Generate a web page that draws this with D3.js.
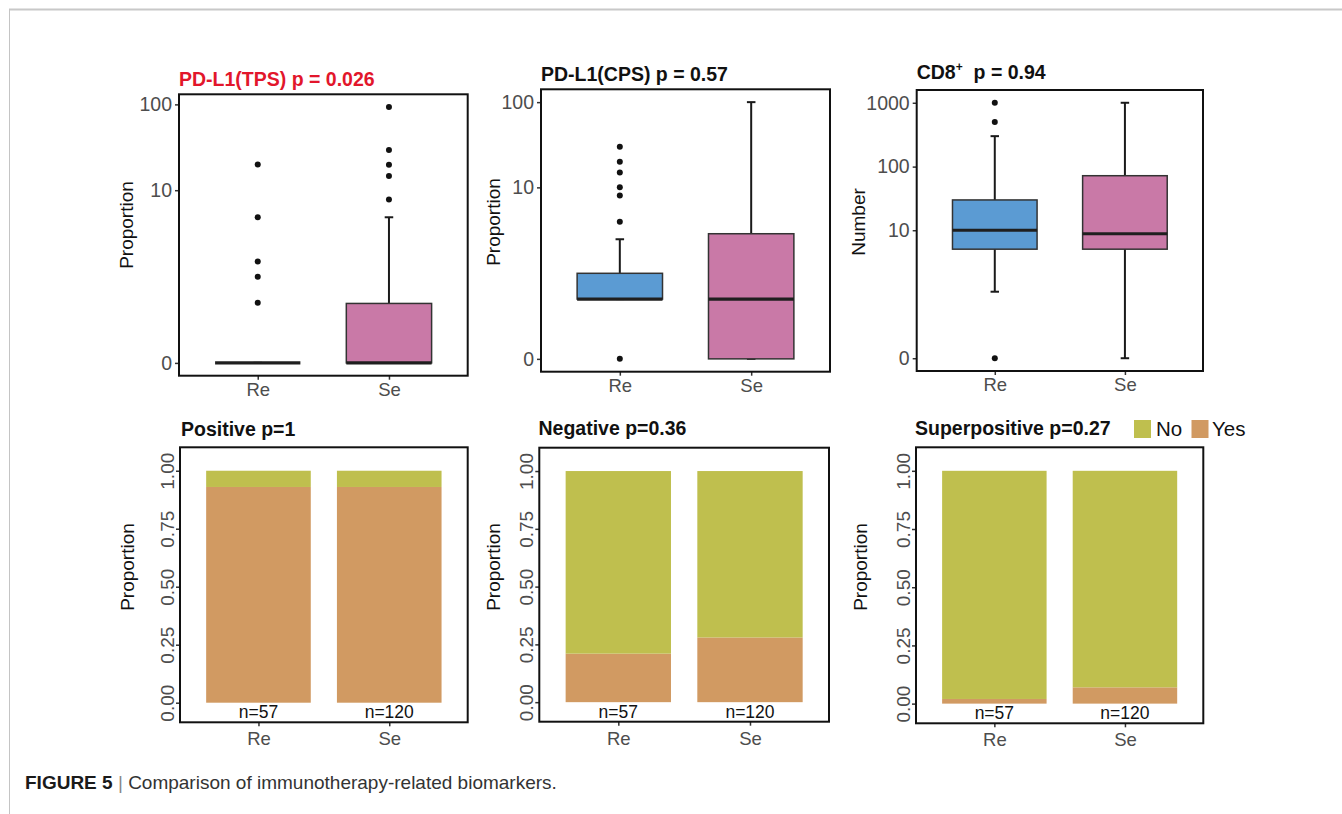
<!DOCTYPE html>
<html>
<head>
<meta charset="utf-8">
<script src="https://cdn.jsdelivr.net/npm/d3@7/dist/d3.min.js"></script>
<style>
  body { margin: 0; background: #fff; }
  svg text { font-family: 'Liberation Sans', Arial, Helvetica, sans-serif; }
</style>
</head>
<body>
<div id="chart"></div>
<script>
const groups = ['Re', 'Se']
const boxColors = ['#5b9bd3', '#c979a7']
// box stats: [lower whisker, q1, median, q3, upper whisker]
const tpsBox = [[0, 0, 0, 0, 0], [0, 0, 0, 0.39, 4.8]]
const tpsOut = [[20, 4.8, 1.4, 0.9, 0.4], [93, 29.5, 19.8, 14.7, 7.8]]
const cpsBox = [[0.4, 0.4, 0.4, 0.9, 2.4], [0, 0, 0.4, 2.8, 100]]
const cpsOut = [[30, 20, 15, 10, 8, 3.9, 0], []]
const cd8Box = [[1, 5, 10, 30, 300], [0, 5, 8.8, 72, 1000]]
const cd8Out = [[1000, 500, 0], []]
const propTicksLog = [0, 10, 100]
const numTicksLog = [0, 10, 100, 1000]

const answers = ['Yes', 'No']
const answerColors = { No: '#bfbf4e', Yes: '#d19a62' }
const positiveYes = [0.93, 0.93]
const negativeYes = [0.21, 0.28]
const superYes = [0.02, 0.07]
const sampleN = [57, 120]
const propTicks = [0, 0.25, 0.5, 0.75, 1]

const W = 1342
const H = 814
const svg = d3.select('#chart').append('svg')
  .attr('width', W)
  .attr('height', H)

// page frame
svg.append('line').attr('x1', 9).attr('x2', W).attr('y1', 9.5).attr('y2', 9.5)
  .attr('stroke', '#c8c8c8').attr('stroke-width', 2)
svg.append('line').attr('x1', 9.5).attr('x2', 9.5).attr('y1', 9).attr('y2', H)
  .attr('stroke', '#c4c4c4').attr('stroke-width', 1)

function yTitle (g, text, cx, cy) {
  g.append('text')
    .attr('transform', `translate(${cx},${cy}) rotate(-90)`)
    .attr('text-anchor', 'middle')
    .attr('dy', '0.35em')
    .attr('font-size', 19)
    .attr('fill', '#111')
    .text(text)
}

function styleAxis (ax, size) {
  ax.select('.domain').remove()
  ax.selectAll('.tick line').attr('stroke', '#333').attr('stroke-width', 1.5)
  ax.selectAll('.tick text').attr('fill', '#4d4d4d').attr('font-size', size)
    .attr('font-family', null)
}

function boxPanel (o) {
  const [x0, y0, x1, y1] = o.box
  const g = svg.append('g')
  const x = d3.scalePoint().domain(groups).range([x0, x1]).padding(0.6)
  const pad = (y1 - y0) * 0.05 / 1.1
  const y = d3.scaleSymlog().constant(0.1).domain([0, o.max]).range([y1 - pad, y0 + pad])
  const bw = x.step() * 0.65
  const cap = x.step() * 0.065

  const ya = g.append('g').attr('transform', `translate(${x0},0)`)
    .call(d3.axisLeft(y).tickValues(o.ticks).tickSize(4).tickPadding(3).tickFormat(d3.format('d')))
  styleAxis(ya, 19.5)
  const xa = g.append('g').attr('transform', `translate(0,${y1})`)
    .call(d3.axisBottom(x).tickSize(4).tickPadding(3))
  styleAxis(xa, 18.5)

  groups.forEach((k, i) => {
    const s = o.stats[i]
    const cx = x(k)
    const bx = g.append('g')
    // whiskers
    bx.append('line').attr('x1', cx).attr('x2', cx).attr('y1', y(s[0])).attr('y2', y(s[4]))
      .attr('stroke', '#1a1a1a').attr('stroke-width', 2)
    ;[s[0], s[4]].forEach(v => {
      bx.append('line').attr('x1', cx - cap / 2).attr('x2', cx + cap / 2)
        .attr('y1', y(v)).attr('y2', y(v))
        .attr('stroke', '#1a1a1a').attr('stroke-width', 2)
    })
    bx.append('rect')
      .attr('x', cx - bw / 2).attr('width', bw)
      .attr('y', y(s[3])).attr('height', y(s[1]) - y(s[3]))
      .attr('fill', o.colors[i]).attr('stroke', '#333').attr('stroke-width', 1.5)
    bx.append('line').attr('x1', cx - bw / 2).attr('x2', cx + bw / 2)
      .attr('y1', y(s[2])).attr('y2', y(s[2]))
      .attr('stroke', '#1f1f1f').attr('stroke-width', 3.2)
    bx.selectAll('circle').data(o.outliers[i]).enter().append('circle')
      .attr('cx', cx).attr('cy', d => y(d)).attr('r', 3)
      .attr('fill', '#111')
  })

  g.append('rect').attr('x', x0).attr('y', y0).attr('width', x1 - x0).attr('height', y1 - y0)
    .attr('fill', 'none').attr('stroke', '#111').attr('stroke-width', 2)

  const t = g.append('text').attr('x', x0).attr('y', o.titleY)
    .attr('font-size', 19.5).attr('font-weight', 'bold').attr('fill', o.titleColor || '#111')
  if (o.sup) {
    t.append('tspan').text(o.title)
    t.append('tspan').attr('font-size', 12).attr('dy', -8).text(o.sup)
    t.append('tspan').attr('dy', 8).text('\u00a0 ' + o.rest)
  } else {
    t.text(o.title)
  }
  yTitle(g, o.ylab, o.ylabPos[0], o.ylabPos[1])
}

function barPanel (o) {
  const [x0, y0, x1, y1] = o.box
  const g = svg.append('g')
  const x = d3.scalePoint().domain(groups).range([x0, x1]).padding(0.6)
  const y = d3.scaleLinear().domain([-0.0845, 1.101]).range([y1, y0])
  const bw = x.step() * 0.8

  const rows = groups.map((k, i) => ({ group: k, Yes: o.yes[i], No: 1 - o.yes[i] }))
  const series = d3.stack().keys(answers)(rows)

  g.selectAll('.layer').data(series).enter().append('g')
    .attr('class', 'layer')
    .attr('fill', d => answerColors[d.key])
    .selectAll('rect').data(d => d).enter().append('rect')
    .attr('x', d => x(d.data.group) - bw / 2)
    .attr('width', bw)
    .attr('y', d => y(d[1]))
    .attr('height', d => y(d[0]) - y(d[1]))

  const ya = g.append('g').attr('transform', `translate(${x0},0)`)
    .call(d3.axisLeft(y).tickValues(propTicks).tickSize(4).tickFormat(d3.format('.2f')))
  styleAxis(ya, 19)
  ya.selectAll('.tick text')
    .attr('x', null).attr('dy', null)
    .attr('text-anchor', 'middle')
    .attr('transform', 'translate(-6,0) rotate(-90)')
  const xa = g.append('g').attr('transform', `translate(0,${y1})`)
    .call(d3.axisBottom(x).tickSize(4).tickPadding(6))
  styleAxis(xa, 18.5)

  g.selectAll('.nlab').data(groups).enter().append('text')
    .attr('class', 'nlab')
    .attr('x', d => x(d))
    .attr('y', y1 - 4)
    .attr('text-anchor', 'middle')
    .attr('font-size', 17.5)
    .attr('fill', '#111')
    .text((d, i) => 'n=' + sampleN[i])

  g.append('rect').attr('x', x0).attr('y', y0).attr('width', x1 - x0).attr('height', y1 - y0)
    .attr('fill', 'none').attr('stroke', '#111').attr('stroke-width', 2)

  g.append('text').attr('x', o.titleX).attr('y', o.titleY)
    .attr('font-size', 19.5).attr('font-weight', 'bold').attr('fill', '#111')
    .text(o.title)
  yTitle(g, 'Proportion', o.ylabPos[0], o.ylabPos[1])
}

boxPanel({
  box: [179, 94.3, 467.7, 375.7],
  title: 'PD-L1(TPS) p = 0.026',
  titleColor: '#e2162b',
  titleY: 85.5,
  ylab: 'Proportion',
  ylabPos: [126, 225],
  ticks: propTicksLog,
  max: 93,
  stats: tpsBox,
  outliers: tpsOut,
  colors: boxColors
})
boxPanel({
  box: [541, 89.3, 830, 371.7],
  title: 'PD-L1(CPS) p = 0.57',
  titleY: 81,
  ylab: 'Proportion',
  ylabPos: [493, 222],
  ticks: propTicksLog,
  max: 100,
  stats: cpsBox,
  outliers: cpsOut,
  colors: boxColors
})
boxPanel({
  box: [916.7, 90, 1203, 371],
  title: 'CD8',
  sup: '+',
  rest: 'p = 0.94',
  titleY: 79,
  ylab: 'Number',
  ylabPos: [858, 222],
  ticks: numTicksLog,
  max: 1000,
  stats: cd8Box,
  outliers: cd8Out,
  colors: boxColors
})

barPanel({
  box: [180, 447.3, 467.7, 722.3],
  title: 'Positive p=1',
  titleX: 181,
  titleY: 435.5,
  ylabPos: [127, 567],
  yes: positiveYes
})
barPanel({
  box: [539.3, 447.7, 829, 721.7],
  title: 'Negative p=0.36',
  titleX: 538.5,
  titleY: 434.5,
  ylabPos: [493.5, 567],
  yes: negativeYes
})
barPanel({
  box: [916, 447.3, 1203.3, 723.3],
  title: 'Superpositive p=0.27',
  titleX: 915,
  titleY: 434.5,
  ylabPos: [860, 567],
  yes: superYes
})

// legend
const leg = svg.append('g')
const legPos = { No: [1134, 1156], Yes: [1191.5, 1212] }
;['No', 'Yes'].forEach(k => {
  leg.append('rect').attr('x', legPos[k][0]).attr('y', 420).attr('width', 17).attr('height', 18)
    .attr('fill', answerColors[k])
  leg.append('text').attr('x', legPos[k][1]).attr('y', 436).attr('font-size', 20.5)
    .attr('fill', '#111').text(k)
})

// caption
const cap = svg.append('text').attr('x', 25).attr('y', 789).attr('font-size', 19)
cap.append('tspan').attr('font-weight', 'bold').attr('fill', '#1a1a1a').text('FIGURE 5')
cap.append('tspan').attr('fill', '#888').text(' | ')
cap.append('tspan').attr('fill', '#333').text('Comparison of immunotherapy-related biomarkers.')
</script>
</body>
</html>
